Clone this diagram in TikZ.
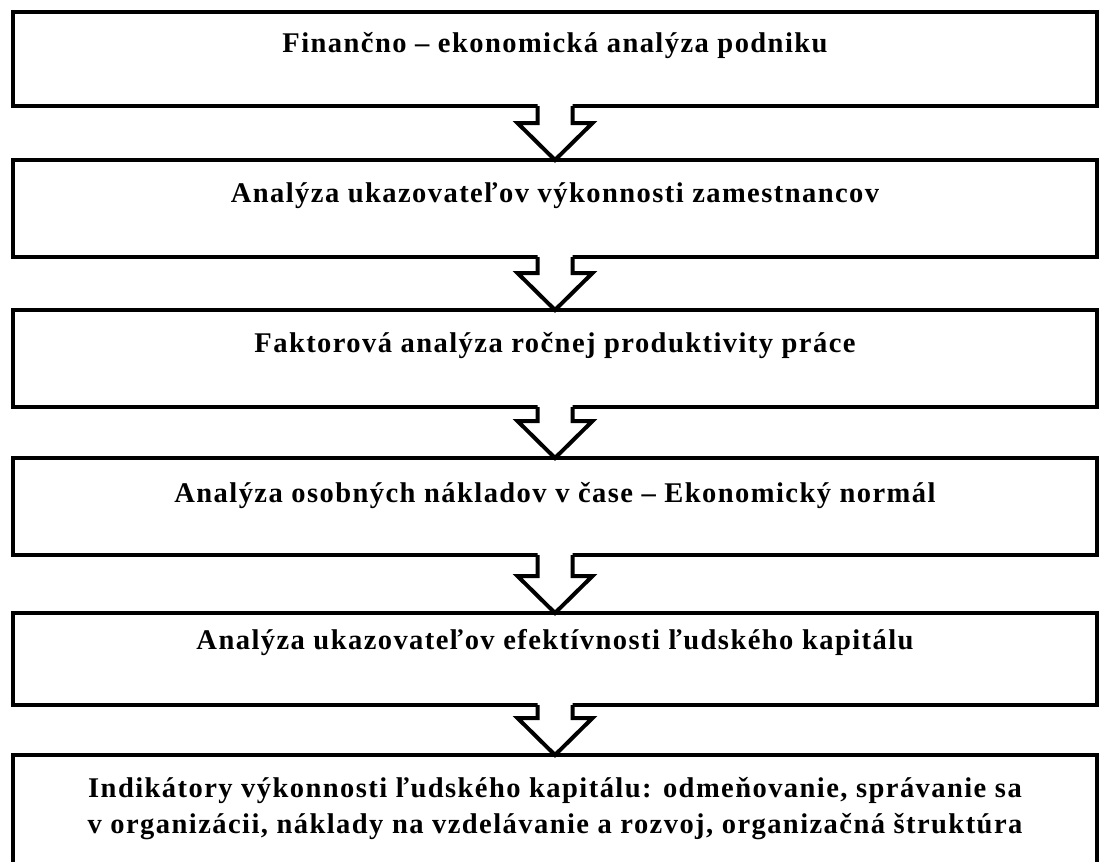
\documentclass[tikz,border=0pt]{standalone}
\usepackage{fontspec}
\setmainfont[LetterSpace=5]{Liberation Serif}
\usetikzlibrary{positioning, calc}

\begin{document}
\begin{tikzpicture}[
  x=0.75pt, y=-0.75pt,
  % Styles
  stage/.style={
    rectangle, draw=black, line width=3pt, fill=white,
    minimum width=813pt, minimum height=#1,
    outer sep=0pt, inner sep=0pt
  },
  stagetext/.style={
    font=\bfseries\fontsize{21.4}{26.5}\selectfont,
    anchor=base, align=center, inner sep=0pt
  },
  flowarrow/.style={
    draw=black, line width=3pt, line join=miter
  },
]
\useasboundingbox (0,0) rectangle (1100,861);

% === STAGES ===
\node[stage=70.5pt] (analyza) at (555,59) {};
\node[stage=72.75pt, below=40.5pt of analyza] (vykon) {};
\node[stage=72.75pt, below=39.75pt of vykon] (faktor) {};
\node[stage=72.75pt, below=38.25pt of faktor] (naklady) {};
\node[stage=69pt, below=43.5pt of naklady] (efekt) {};
\node[stage=84pt, below=37.5pt of efekt] (indik) {};

% === STAGE TEXTS ===
\node[stagetext] (analyzatext) at ([yshift=-30pt]analyza.north)
  {Finančno – ekonomická analýza podniku};
\node[stagetext] (vykontext) at ([yshift=-32pt]vykon.north)
  {Analýza ukazovateľov výkonnosti zamestnancov};
\node[stagetext] (faktortext) at ([yshift=-32pt]faktor.north)
  {Faktorová analýza ročnej produktivity práce};
\node[stagetext] (nakladytext) at ([yshift=-33pt]naklady.north)
  {Analýza osobných nákladov v čase – Ekonomický normál};
\node[stagetext] (efekttext) at ([yshift=-27pt]efekt.north)
  {Analýza ukazovateľov efektívnosti ľudského kapitálu};
% base of a two-line node sits on its last line
\node[stagetext] (indiktext) at ([yshift=-58.5pt]indik.north)
  {Indikátory výkonnosti ľudského kapitálu: odmeňovanie, správanie sa\\
   v organizácii, náklady na vzdelávanie a rozvoj, organizačná štruktúra};

% === Block arrows between stages ===
\foreach \from/\to in {analyza/vykon, vykon/faktor, faktor/naklady,
                       naklady/efekt, efekt/indik} {
  \fill[white] ($(\from.south)+(-17.5,-3)$) |- ($(\to.north)+(-37.5,-37)$)
    -- (\to.north) -- ($(\to.north)+(37.5,-37)$) -| ($(\from.south)+(17.5,-3)$) -- cycle;
  \draw[flowarrow] ($(\from.south)+(-17.5,0)$) |- ($(\to.north)+(-37.5,-37)$)
    -- (\to.north) -- ($(\to.north)+(37.5,-37)$) -| ($(\from.south)+(17.5,0)$);
}

\end{tikzpicture}
\end{document}
